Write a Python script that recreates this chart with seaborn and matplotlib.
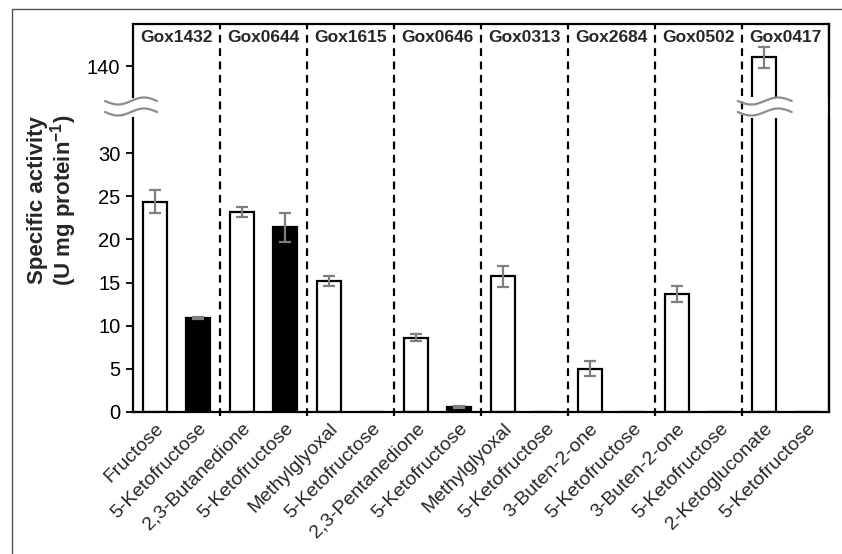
import numpy as np
import pandas as pd
import matplotlib.pyplot as plt
import seaborn as sns
from matplotlib.lines import Line2D

# data
groups = ["Gox1432", "Gox0644", "Gox1615", "Gox0646", "Gox0313", "Gox2684", "Gox0502", "Gox0417"]
substrates = ["Fructose", "5-Ketofructose", "2,3-Butanedione", "5-Ketofructose",
              "Methylglyoxal", "5-Ketofructose", "2,3-Pentanedione", "5-Ketofructose",
              "Methylglyoxal", "5-Ketofructose", "3-Buten-2-one", "5-Ketofructose",
              "3-Buten-2-one", "5-Ketofructose", "2-Ketogluconate", "5-Ketofructose"]
activity = [24.4, 10.9, 23.2, 21.4, 15.2, 0.0, 8.6, 0.55,
            15.7, 0.0, 5.0, 0.0, 13.7, 0.0, 141.0, 0.0]
activity_err = [1.35, 0.15, 0.6, 1.7, 0.6, 0.0, 0.4, 0.1,
                1.2, 0.0, 0.9, 0.0, 0.95, 0.0, 1.2, 0.0]
fill = ["white", "black", "white", "black", "white", "white", "white", "black",
        "white", "white", "white", "white", "white", "white", "white", "white"]

df = pd.DataFrame({"pos": range(len(substrates)), "substrate": substrates,
                   "activity": activity, "err": activity_err, "fill": fill})

sns.set_theme(style="white")
plt.rcParams["font.family"] = ["Liberation Sans", "DejaVu Sans"]
plt.rcParams["mathtext.fontset"] = "custom"
plt.rcParams["mathtext.rm"] = "Liberation Sans"
plt.rcParams["mathtext.bf"] = "Liberation Sans:bold"

W, H = 842, 554
fig = plt.figure(figsize=(W / 100, H / 100), dpi=100)
left, right = 133 / W, 829 / W
ax_lo = fig.add_axes([left, 1 - 411.7 / H, right - left, (411.7 - 118) / H])
ax_hi = fig.add_axes([left, 1 - 97 / H, right - left, (97 - 24) / H])
ax_hi.set_facecolor("none")
ax_lo.set_facecolor("none")

for ax in (ax_lo, ax_hi):
    sns.barplot(data=df, x="pos", y="activity", hue="fill",
                palette={"white": "white", "black": "black"}, dodge=False,
                width=0.55, edgecolor="black", linewidth=1.6, errorbar=None,
                legend=False, ax=ax)
    m = df["err"] > 0
    ax.errorbar(df.loc[m, "pos"], df.loc[m, "activity"], yerr=df.loc[m, "err"],
                fmt="none", ecolor="#7f7f7f", elinewidth=1.6, capsize=4.5, capthick=1.6)
    ax.set_xlim(-0.5, len(substrates) - 0.5)
    ax.set_xlabel("")
    ax.set_ylabel("")
    for s in ax.spines.values():
        s.set_color("black")
        s.set_linewidth(1.6)
    ax.tick_params(axis="y", direction="out", length=5, width=1.3, labelsize=14.5,
                   left=True, colors="black", pad=4)

ax_lo.set_ylim(0, 34.1)
ax_lo.set_yticks([0, 5, 10, 15, 20, 25, 30])
ax_lo.spines["top"].set_visible(False)
ax_lo.set_xticks(df["pos"])
ax_lo.set_xticklabels(df["substrate"], rotation=45, ha="right", rotation_mode="anchor",
                      fontsize=14)
ax_lo.tick_params(axis="x", length=0, pad=6)

ax_hi.set_ylim(136.4, 144.9)
ax_hi.set_yticks([140])
ax_hi.spines["bottom"].set_visible(False)
ax_hi.set_xticks([])

# dashed group separators running through both panels, right frame closed
ext = (411.7 - 24) / (411.7 - 118)
for k in range(1, len(groups)):
    ax_lo.axvline(2 * k - 0.5, ymin=-0.015, ymax=ext, color="black", lw=1.6,
                  ls=(0, (3.5, 2.5)), clip_on=False)
ax_lo.axvline(len(substrates) - 0.5, ymin=0, ymax=ext, color="black", lw=1.6, clip_on=False)
for k, g in enumerate(groups):
    ax_hi.text(2 * k + 0.5, 0.81, g, transform=ax_hi.get_xaxis_transform(),
               ha="center", va="center", fontsize=12.5, fontweight="bold")

fig.text(53 / W, 1 - 200 / H, "Specific activity\n(U mg protein$^{\\mathbf{-1}}$)",
         rotation=90, ha="center", va="center", fontsize=16, fontweight="bold",
         linespacing=1.0)

# axis break marks
fig.canvas.draw()
def wave(xc_px, half_w):
    t = np.linspace(-1, 1, 60)
    xs = xc_px + t * half_w
    for y0 in (101, 112):
        ys = y0 - 3.5 * np.sin(np.pi * t)
        fig.add_artist(Line2D(xs / W, 1 - ys / H, color="#8c8c8c", lw=1.6))

wave(131, 26)
bar15_x = ax_lo.transData.transform((14, 0))[0]
wave(bar15_x + 1, 27)

# outer frame
fig.add_artist(Line2D([12 / W, 12 / W], [0, 1 - 9 / H], color="#555555", lw=1))
fig.add_artist(Line2D([12 / W, 1], [1 - 9 / H, 1 - 9 / H], color="#555555", lw=1))

fig.savefig("out.png", dpi=100)
